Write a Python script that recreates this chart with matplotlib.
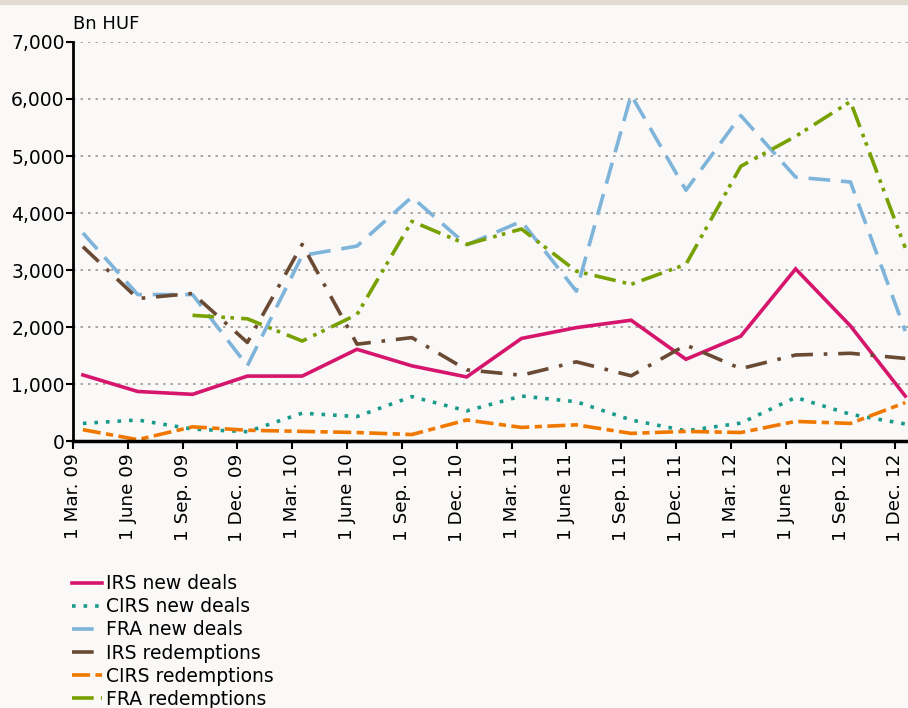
import matplotlib
matplotlib.use("Agg")
import matplotlib.pyplot as plt
import numpy as np

quarters = ["1 Mar. 09", "1 June 09", "1 Sep. 09", "1 Dec. 09",
            "1 Mar. 10", "1 June 10", "1 Sep. 10", "1 Dec. 10",
            "1 Mar. 11", "1 June 11", "1 Sep. 11", "1 Dec. 11",
            "1 Mar. 12", "1 June 12", "1 Sep. 12", "1 Dec. 12"]

irs_new = [1160, 870, 820, 1140, 1140, 1610, 1320, 1125, 1800, 1990, 2120, 1435, 1840, 3020, 2020, 790]
cirs_new = [310, 370, 210, 165, 490, 430, 780, 530, 790, 690, 370, 180, 315, 765, 470, 300]
fra_new = [3650, 2570, 2570, 1320, 3255, 3420, 4280, 3440, 3855, 2630, 6070, 4400, 5710, 4630, 4545, 1930]
irs_red = [3410, 2500, 2590, 1730, 3450, 1700, 1815, 1250, 1155, 1390, 1145, 1685, 1270, 1510, 1540, 1450]
cirs_red = [200, 25, 250, 190, 170, 150, 115, 370, 240, 285, 135, 170, 150, 345, 310, 675]
fra_red = [np.nan, np.nan, 2205, 2145, 1755, 2220, 3855, 3450, 3720, 2980, 2750, 3100, 4820, 5345, 5955, 3390]

bg = "#FAF9F7"
fig = plt.figure(figsize=(9.08, 7.08), dpi=100, facecolor=bg)
# top beige strip
fig.patches.append(plt.Rectangle((0, 0.994), 1, 0.006, transform=fig.transFigure,
                                 color="#E2DBCF", zorder=0))
ax = fig.add_axes([0.0804, 0.377, 0.9196, 0.5637], facecolor=bg)

x = np.arange(len(quarters)) + 0.18
lw = 2.6
series = [
    ("IRS new deals", irs_new, "#D6156C", "-"),
    ("CIRS new deals", cirs_new, "#1A9A8C", (0, (1, 2.2))),
    ("FRA new deals", fra_new, "#7FB4DA", (0, (6, 3))),
    ("IRS redemptions", irs_red, "#6B4A33", (0, (6, 3, 1, 3))),
    ("CIRS redemptions", cirs_red, "#F07800", (0, (5, 1.5, 2, 1.5))),
    ("FRA redemptions", fra_red, "#78A000", (0, (6, 2, 1, 1.5, 1, 2))),
]
lines = []
for name, vals, col, ls in series:
    l, = ax.plot(x, vals, color=col, lw=lw, linestyle=ls, label=name,
                 solid_joinstyle="miter", dash_capstyle="butt")
    lines.append(l)

ax.set_xlim(0, 15.23)
ax.set_ylim(0, 7000)
ax.set_yticks(np.arange(0, 7001, 1000))
ax.set_yticklabels([f"{v:,}" for v in range(0, 7001, 1000)])
ax.set_xticks(np.arange(len(quarters)))
ax.set_xticklabels(quarters, rotation=90, va="top", ha="center")
for v in range(1000, 7001, 1000):
    ax.axhline(v, color="#999999", lw=1.2, linestyle=(0, (1.5, 3)), zorder=0)

for s in ["top", "right"]:
    ax.spines[s].set_visible(False)
ax.spines["left"].set_linewidth(2)
ax.spines["bottom"].set_linewidth(2.5)
ax.tick_params(axis="y", length=5, width=1.5, labelsize=13.5, pad=1)
ax.tick_params(axis="x", length=6, width=1.5, labelsize=13.2, pad=3)

fig.text(0.0804, 0.953, "Bn HUF", fontsize=13, ha="left", va="bottom")

leg = fig.legend(handles=lines, loc="upper left", bbox_to_anchor=(0.079, 0.189),
                 frameon=False, handlelength=1.6, handletextpad=0.25,
                 labelspacing=0.22, borderaxespad=0, borderpad=0,
                 prop={"size": 13.5})

fig.savefig("out.png", dpi=100, facecolor=bg)
